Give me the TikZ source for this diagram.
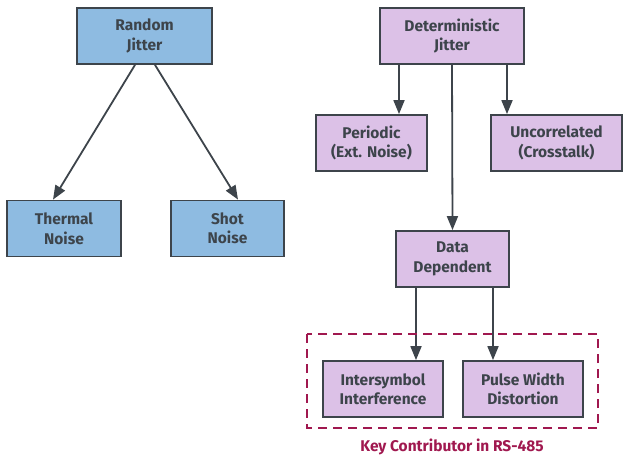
\documentclass[tikz,border=0pt]{standalone}
\usepackage{fontspec}
\setmainfont{Fira Sans}
\usetikzlibrary{arrows.meta}
\definecolor{boxline}{HTML}{3D444B}
\definecolor{rjblue}{HTML}{8EBBE1}
\definecolor{djpurple}{HTML}{DCC1E7}
\definecolor{keyred}{HTML}{A0184F}
\tikzset{
	jbox/.style={draw=boxline, line width=1.8pt, minimum height=56pt, align=center,
		font=\fontsize{15.5}{19.5}\selectfont\bfseries, text=boxline, inner sep=0pt},
	rjbox/.style={jbox, fill=rjblue},
	djbox/.style={jbox, fill=djpurple},
	jarrow/.style={draw=boxline, line width=1.8pt, -{Triangle[length=14pt,width=11pt]}}
}

\begin{document}
\begin{tikzpicture}[x=1pt, y=-1pt]
		%%%%% START %%%%%
		\useasboundingbox (0,0) rectangle (623,457);
		
		% random jitter side
		\node[rjbox, minimum width=135pt] (random) at (144.5, 36) {Random\\Jitter};
		\node[rjbox, minimum width=114pt] (thermal) at (64, 228.5) {Thermal\\Noise};
		\node[rjbox, minimum width=113pt] (shot) at (227.5, 228.5) {Shot\\Noise};
		
		\draw[jarrow] ([xshift=-9.5pt]random.south) -- ([xshift=-11pt]thermal.north);
		\draw[jarrow] ([xshift=10.5pt]random.south) -- ([xshift=10.5pt]shot.north);
		
		% deterministic jitter side
		\node[djbox, minimum width=144pt] (determ) at (452, 36) {Deterministic\\Jitter};
		\node[djbox, minimum width=111pt] (periodic) at (371.5, 143) {Periodic\\(Ext. Noise)};
		\node[djbox, minimum width=131pt] (uncorr) at (556.5, 143) {Uncorrelated\\(Crosstalk)};
		\node[djbox, minimum width=113pt] (datadep) at (452.5, 259) {Data\\Dependent};
		\node[djbox, minimum width=120pt] (intersym) at (383, 389) {Intersymbol\\Interference};
		\node[djbox, minimum width=120pt] (pulsew) at (523, 389) {Pulse Width\\Distortion};
		
		\draw[jarrow] ([xshift=-53pt]determ.south) -- ([xshift=27.5pt]periodic.north);
		\draw[jarrow] ([xshift=55pt]determ.south) -- ([xshift=-49.5pt]uncorr.north);
		\draw[jarrow] (determ.south) -- (datadep.north);
		\draw[jarrow] ([xshift=-36.5pt]datadep.south) -- ([xshift=33pt]intersym.north);
		\draw[jarrow] ([xshift=40.5pt]datadep.south) -- ([xshift=-30pt]pulsew.north);
		
		% key contributor frame
		\draw[keyred, line width=1.8pt, dash pattern=on 9pt off 6pt] (307, 334) rectangle (598, 428);
		\node[text=keyred, font=\fontsize{15.5}{17}\selectfont\bfseries] (keylabel) at (452, 447) {Key Contributor in RS-485};
		
		%%%%% END %%%%%
	\end{tikzpicture}
\end{document}
